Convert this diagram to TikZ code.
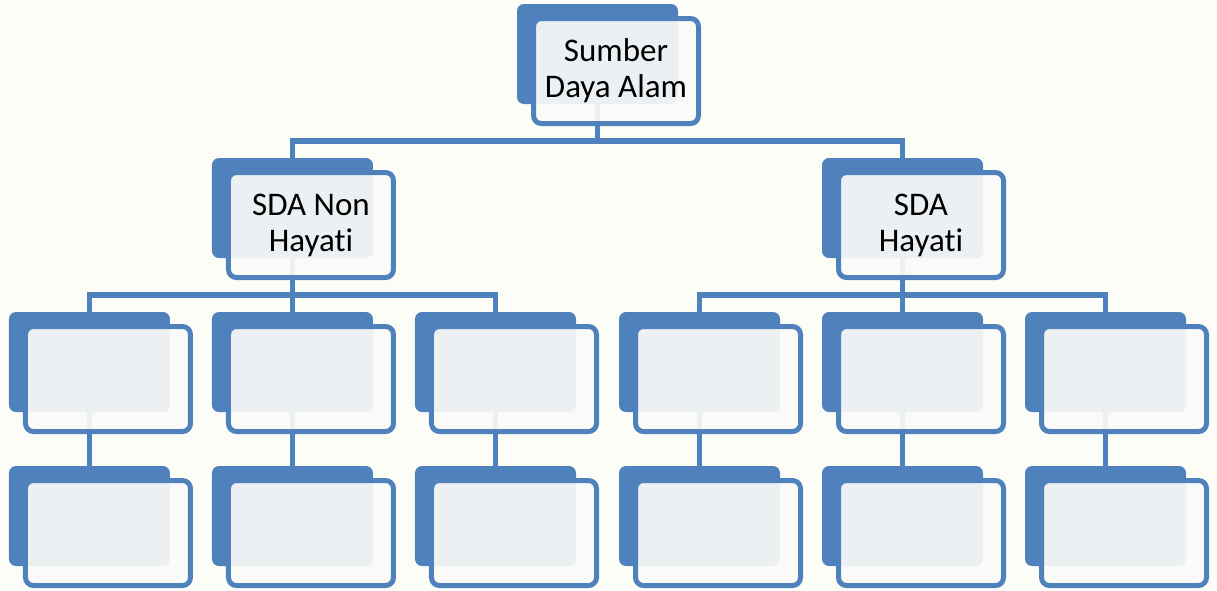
\documentclass[tikz,border=0pt]{standalone}
\usepackage{fontspec}
\setmainfont{Carlito}[Ligatures=NoCommon]
\usetikzlibrary{positioning}
\definecolor{sdablue}{RGB}{79,129,189}
\definecolor{sdapaper}{RGB}{253,253,248}
\definecolor{sdaface}{RGB}{250,250,248}
\tikzset{
    backbox/.style={fill=sdablue, rounded corners=7pt, minimum width=161pt,
        minimum height=100pt, inner sep=0pt, outer sep=0pt},
    frontbox/.style={draw=sdablue, line width=5pt, fill=sdaface, fill opacity=0.92,
        text opacity=1, rounded corners=8pt, minimum width=165pt,
        minimum height=105pt, inner sep=0pt, align=center,
        font=\fontsize{33}{36}\selectfont},
    link/.style={draw=sdablue, line width=5.5pt},
}
\begin{document}
\begin{tikzpicture}[node distance=54pt and 42pt]
    \fill[sdapaper] (-597.5pt,-536pt) rectangle (619.5pt,54pt);
    % back boxes
    \node[backbox] (sda) at (0,0) {};
    \node[backbox, below left=54pt and 144pt of sda] (nonhayati) {};
    \node[backbox, below right=54pt and 144pt of sda] (hayati) {};
    \node[backbox, below=of nonhayati] (nh2) {};
    \node[backbox, left=of nh2] (nh1) {};
    \node[backbox, right=of nh2] (nh3) {};
    \node[backbox, below=of hayati] (h2) {};
    \node[backbox, left=of h2] (h1) {};
    \node[backbox, right=of h2] (h3) {};
    \node[backbox, below=of nh1] (nh1b) {};
    \node[backbox, below=of nh2] (nh2b) {};
    \node[backbox, below=of nh3] (nh3b) {};
    \node[backbox, below=of h1] (h1b) {};
    \node[backbox, below=of h2] (h2b) {};
    \node[backbox, below=of h3] (h3b) {};

    % connectors
    \draw[link] (sda.south) -- ++(0,-37pt) coordinate (busTop);
    \draw[link] (nonhayati.north) |- (busTop) -| (hayati.north);
    \draw[link] (nonhayati.south) -- ++(0,-37pt) coordinate (busNH) -- (nh2.north);
    \draw[link] (nh1.north) |- (busNH) -| (nh3.north);
    \draw[link] (hayati.south) -- ++(0,-37pt) coordinate (busH) -- (h2.north);
    \draw[link] (h1.north) |- (busH) -| (h3.north);
    \draw[link] (nh1.south) -- (nh1b.north);
    \draw[link] (nh2.south) -- (nh2b.north);
    \draw[link] (nh3.south) -- (nh3b.north);
    \draw[link] (h1.south) -- (h1b.north);
    \draw[link] (h2.south) -- (h2b.north);
    \draw[link] (h3.south) -- (h3b.north);

    % front boxes
    \node[frontbox] (sdaF) at ([xshift=18.5pt,yshift=-17pt]sda.center) {Sumber\\Daya Alam};
    \node[frontbox] (nonhayatiF) at ([xshift=18.5pt,yshift=-17pt]nonhayati.center) {SDA Non\\Hayati};
    \node[frontbox] (hayatiF) at ([xshift=18.5pt,yshift=-17pt]hayati.center) {SDA\\Hayati};
    \node[frontbox] (nh1F) at ([xshift=18.5pt,yshift=-17pt]nh1.center) {};
    \node[frontbox] (nh2F) at ([xshift=18.5pt,yshift=-17pt]nh2.center) {};
    \node[frontbox] (nh3F) at ([xshift=18.5pt,yshift=-17pt]nh3.center) {};
    \node[frontbox] (h1F) at ([xshift=18.5pt,yshift=-17pt]h1.center) {};
    \node[frontbox] (h2F) at ([xshift=18.5pt,yshift=-17pt]h2.center) {};
    \node[frontbox] (h3F) at ([xshift=18.5pt,yshift=-17pt]h3.center) {};
    \node[frontbox] (nh1bF) at ([xshift=18.5pt,yshift=-17pt]nh1b.center) {};
    \node[frontbox] (nh2bF) at ([xshift=18.5pt,yshift=-17pt]nh2b.center) {};
    \node[frontbox] (nh3bF) at ([xshift=18.5pt,yshift=-17pt]nh3b.center) {};
    \node[frontbox] (h1bF) at ([xshift=18.5pt,yshift=-17pt]h1b.center) {};
    \node[frontbox] (h2bF) at ([xshift=18.5pt,yshift=-17pt]h2b.center) {};
    \node[frontbox] (h3bF) at ([xshift=18.5pt,yshift=-17pt]h3b.center) {};
\end{tikzpicture}
\end{document}
